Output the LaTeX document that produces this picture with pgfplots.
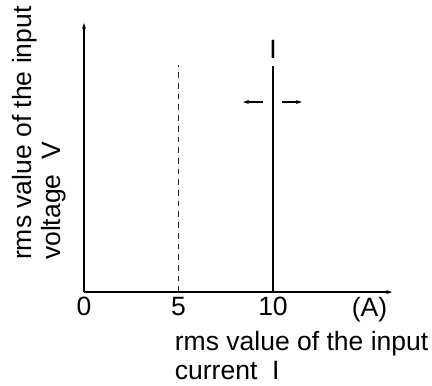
\documentclass[border=0pt]{standalone}
\usepackage{fontspec}
\setmainfont{Liberation Sans}
\usepackage{pgfplots}
\pgfplotsset{compat=1.18}
\usetikzlibrary{arrows.meta}
\begin{document}
\fontsize{26.5}{29}\selectfont
\begin{tikzpicture}
\begin{axis}[
  axis lines=left,
  axis line style={line width=1.2pt, -{Stealth[length=6pt,width=4pt]}},
  scale only axis,
  x=18.9pt, y=1pt,
  xmin=0, xmax=16.3, ymin=0, ymax=269,
  xtick={0,5,10,15.1}, xticklabels={0,5,10,(A)},
  ytick=\empty,
  major tick length=0pt,
  xticklabel style={font=\fontsize{26.5}{29}\selectfont, inner sep=0pt, yshift=-5pt},
  /pgf/number format/assume math mode=true,
  clip=false,
]
\path (axis cs:-4.44,292) rectangle (axis cs:18.41,-93);
\addplot[black!85, line width=1.2pt, dash pattern=on 5.7pt off 5pt] coordinates {(5,0) (5,227)};
\addplot[black, line width=1.2pt] coordinates {(10,0) (10,226)};
\addplot[black, line width=1.2pt, -{Stealth[length=6pt,width=4pt]}] coordinates {(9.47,190) (8.41,190)};
\addplot[black, line width=1.2pt, -{Stealth[length=6pt,width=4pt]}] coordinates {(10.48,190) (11.53,190)};
\node[inner sep=0pt] at (axis cs:10,243) {I};
\node[anchor=north west, align=left, inner sep=0pt] at (axis cs:4.8,-39) {rms value of the input\\current\ \ I};
\node[rotate=90, anchor=north west, align=left, inner sep=0pt] at (axis cs:-3.81,32) {rms value of the input\\voltage\ \ V};
\end{axis}
\end{tikzpicture}
\end{document}
